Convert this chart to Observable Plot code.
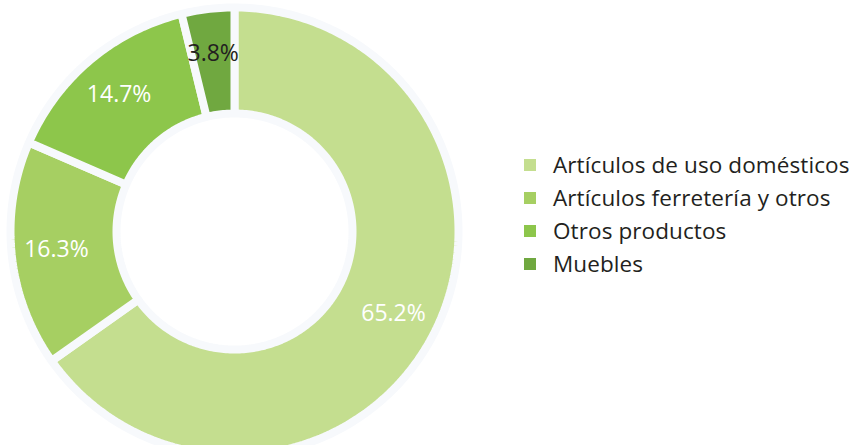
<!DOCTYPE html>
<html>
<head>
<meta charset="utf-8">
<script src="https://cdn.jsdelivr.net/npm/d3@7"></script>
<script src="https://cdn.jsdelivr.net/npm/@observablehq/plot@0.6"></script>
<style>
  html, body { margin: 0; padding: 0; background: #fff; }
  #wrap { position: relative; width: 856px; height: 445px; overflow: hidden; font-family: "Open Sans", sans-serif; }
  #legend { position: absolute; left: 524px; top: 148px; }
  .row { display: flex; align-items: center; height: 33px; }
  .sw { width: 12px; height: 12px; margin-right: 17px; }
  .lab { font-size: 22.5px; color: #231f20; white-space: nowrap; letter-spacing: 0.1px; }
</style>
</head>
<body>
<div id="wrap"><div id="legend"></div></div>
<script>
const categories = ["Artículos de uso domésticos", "Artículos ferretería y otros", "Otros productos", "Muebles"];
const values = [65.2, 16.3, 14.7, 3.8];
const labels = ["65.2%", "16.3%", "14.7%", "3.8%"];
const colors = ["#c4de8f", "#a6cf62", "#8dc64b", "#70a840"];
const labelColors = ["#ffffff", "#ffffff", "#ffffff", "#231f20"];

const W = 856, H = 445;
const cx = 234, cy = 231;       // pixel position of the donut centre
const R = 224, r0 = 118;        // outer / inner radius (data units = px)

const pie = d3.pie().sort(null).value(d => d.value).startAngle(0).endAngle(2 * Math.PI);
const rows = categories.map((c, i) => ({category: c, value: values[i], label: labels[i], labelColor: labelColors[i]}));
const arcs = pie(rows);

const pts = [];
arcs.forEach(a => {
  const n = Math.max(8, Math.ceil((a.endAngle - a.startAngle) * 60));
  for (let k = 0; k <= n; k++) {
    const t = a.startAngle + (a.endAngle - a.startAngle) * k / n;
    pts.push({category: a.data.category, x: R * Math.sin(t), y: R * Math.cos(t)});
  }
  for (let k = n; k >= 0; k--) {
    const t = a.startAngle + (a.endAngle - a.startAngle) * k / n;
    pts.push({category: a.data.category, x: r0 * Math.sin(t), y: r0 * Math.cos(t)});
  }
});
const labelPts = arcs.map(a => {
  const t = (a.startAngle + a.endAngle) / 2;
  const rl = (R + r0) / 2 + 8;
  return {...a.data, x: rl * Math.sin(t), y: rl * Math.cos(t)};
});

const chart = Plot.plot({
  width: W, height: H,
  margin: 0,
  x: {domain: [-cx, W - cx], axis: null},
  y: {domain: [-(H - cy), cy], axis: null},
  color: {domain: categories, range: colors},
  marks: [
    Plot.line(pts, {x: "x", y: "y", z: "category", fill: "category", stroke: "#f7f9fc", strokeWidth: 8, curve: "linear-closed", strokeLinejoin: "miter"}),
    Plot.text(labelPts, {x: "x", y: "y", text: "label", fill: "labelColor", fontSize: 23, fontFamily: "Open Sans", letterSpacing: 0.3})
  ],
  style: {background: "transparent"}
});
document.getElementById("wrap").prepend(chart);

const leg = document.getElementById("legend");
categories.forEach((c, i) => {
  const row = document.createElement("div"); row.className = "row";
  const sw = document.createElement("div"); sw.className = "sw"; sw.style.background = colors[i];
  const lab = document.createElement("div"); lab.className = "lab"; lab.textContent = c;
  row.appendChild(sw); row.appendChild(lab); leg.appendChild(row);
});
</script>
</body>
</html>
